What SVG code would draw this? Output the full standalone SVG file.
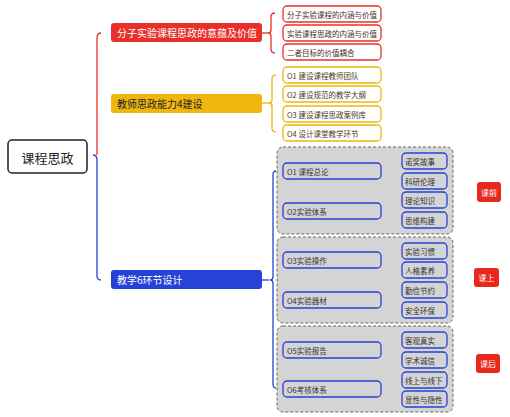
<svg xmlns="http://www.w3.org/2000/svg" width="510" height="417" viewBox="0 0 510 417">
<style>
text{font-family:"Noto Sans CJK SC","Noto Sans",sans-serif;dominant-baseline:central}
.main{font-size:10px}
.sub{font-size:7.5px}
.red{fill:none;stroke:#E8302A;stroke-width:1.3}
.yel{fill:none;stroke:#EFB60E;stroke-width:1.3}
.blu{fill:none;stroke:#2742D6;stroke-width:1.3}
.rc{fill:#fff;stroke:#E8302A;stroke-width:1.3}
.yc{fill:#fff;stroke:#EFB60E;stroke-width:1.3}
.bc{fill:#D4D4D4;stroke:#2742D6;stroke-width:1.3}
.grp{fill:#D4D4D4;stroke:#666;stroke-width:1;stroke-dasharray:3 2}
.tag{fill:#E8281C}
.tagt{font-size:8px;fill:#fff}
</style>
<rect width="510" height="417" fill="#fff"/>
<g id="connectors">
<path class="red" d="M97 155 L97 38 Q97 33 101 33"/>
<path class="blu" d="M93 155 Q97 155 97 160 L97 276 Q97 280 101 280"/>
<path class="red" d="M262 33 L268 33"/>
<path class="red" d="M275 13 Q271 13 271 17 L271 30 Q271 33 268 33 Q271 33 271 36 L271 49 Q271 53 275 53"/>
<path class="yel" d="M262 103 L269 103"/>
<path class="yel" d="M276 75 Q272 75 272 79 L272 100 Q272 103 269 103 Q272 103 272 106 L272 128 Q272 132 276 132"/>
<path class="blu" d="M262 280 L269 280"/>
<path class="blu" d="M276 171 Q273 171 273 175 L273 277 Q273 280 270 280 Q273 280 273 283 L273 384 Q273 388 276 388"/>
<path class="blu" d="M393 160 Q390 160 390 163 L390 168 Q390 171 387 171 Q390 171 390 174 L390 179 Q390 182 393 182"/>
<path class="blu" d="M393 200 Q390 200 390 203 L390 208 Q390 211 387 211 Q390 211 390 214 L390 219 Q390 222 393 222"/>
<path class="blu" d="M393 249 Q390 249 390 252 L390 257 Q390 260 387 260 Q390 260 390 263 L390 268 Q390 271 393 271"/>
<path class="blu" d="M393 289 Q390 289 390 292 L390 297 Q390 300 387 300 Q390 300 390 303 L390 308 Q390 311 393 311"/>
<path class="blu" d="M393 339 Q390 339 390 342 L390 347 Q390 350 387 350 Q390 350 390 353 L390 358 Q390 361 393 361"/>
<path class="blu" d="M393 378 Q390 378 390 381 L390 386 Q390 389 387 389 Q390 389 390 392 L390 397 Q390 400 393 400"/>
</g>
<g id="root"><rect x="8" y="140" width="79" height="33" rx="4" fill="#fff" stroke="#222" stroke-width="1.5"/><text x="47.5" y="157" text-anchor="middle" font-size="13" fill="#222">课程思政</text></g>
<g id="n1"><rect x="111" y="23" width="151" height="19" rx="3" fill="#E8302A"/><text class="main" x="117" y="32.5" fill="#fff">分子实验课程思政的意蕴及价值</text></g>
<g id="n2"><rect x="111" y="94" width="151" height="19" rx="3" fill="#EFB60E"/><text class="main" x="117" y="103.5" fill="#222">教师思政能力4建设</text></g>
<g id="n3"><rect x="111" y="270" width="151" height="19" rx="3" fill="#2742D6"/><text class="main" x="117" y="279.5" fill="#fff">教学6环节设计</text></g>
<g id="n1a"><rect class="rc" x="283" y="6" width="98" height="16" rx="4"/><text class="sub" x="287" y="14" fill="#4a2a2a">分子实验课程的内涵与价值</text></g>
<g id="n1b"><rect class="rc" x="283" y="25" width="98" height="16" rx="4"/><text class="sub" x="287" y="33" fill="#4a2a2a">实验课程思政的内涵与价值</text></g>
<g id="n1c"><rect class="rc" x="283" y="44" width="98" height="16" rx="4"/><text class="sub" x="287" y="52" fill="#4a2a2a">二者目标的价值耦合</text></g>
<g id="n2a"><rect class="yc" x="283" y="67" width="98" height="16" rx="4"/><text class="sub" x="287" y="75" fill="#4a3a1a">O1 建设课程教师团队</text></g>
<g id="n2b"><rect class="yc" x="283" y="86" width="98" height="16" rx="4"/><text class="sub" x="287" y="94" fill="#4a3a1a">O2 建设规范的教学大纲</text></g>
<g id="n2c"><rect class="yc" x="283" y="106" width="98" height="16" rx="4"/><text class="sub" x="287" y="114" fill="#4a3a1a">O3 建设课程思政案例库</text></g>
<g id="n2d"><rect class="yc" x="283" y="125" width="98" height="16" rx="4"/><text class="sub" x="287" y="133" fill="#4a3a1a">O4 设计课堂教学环节</text></g>
<g id="g1"><rect class="grp" x="277" y="147" width="176" height="87" rx="6"/></g>
<g id="g2"><rect class="grp" x="277" y="237" width="176" height="86" rx="6"/></g>
<g id="g3"><rect class="grp" x="277" y="326" width="176" height="86" rx="6"/></g>
<g id="o1"><rect class="bc" x="283" y="163" width="98" height="16" rx="4"/><text class="sub" x="287" y="171" fill="#333">O1 课程总论</text></g>
<g id="o2"><rect class="bc" x="283" y="203" width="98" height="16" rx="4"/><text class="sub" x="287" y="211" fill="#333">O2实验体系</text></g>
<g id="o3"><rect class="bc" x="283" y="252" width="98" height="16" rx="4"/><text class="sub" x="287" y="260" fill="#333">O3实验操作</text></g>
<g id="o4"><rect class="bc" x="283" y="292" width="98" height="16" rx="4"/><text class="sub" x="287" y="300" fill="#333">O4实验器材</text></g>
<g id="o5"><rect class="bc" x="283" y="342" width="98" height="16" rx="4"/><text class="sub" x="287" y="350" fill="#333">O5实验报告</text></g>
<g id="o6"><rect class="bc" x="283" y="381" width="98" height="16" rx="4"/><text class="sub" x="287" y="389" fill="#333">O6考核体系</text></g>
<g id="c1"><rect class="bc" x="402" y="153" width="45" height="16" rx="4"/><text class="sub" x="405" y="161" fill="#333">诺奖故事</text></g>
<g id="c2"><rect class="bc" x="402" y="173" width="45" height="16" rx="4"/><text class="sub" x="405" y="181" fill="#333">科研伦理</text></g>
<g id="c3"><rect class="bc" x="402" y="192" width="45" height="16" rx="4"/><text class="sub" x="405" y="200" fill="#333">理论知识</text></g>
<g id="c4"><rect class="bc" x="402" y="212" width="45" height="16" rx="4"/><text class="sub" x="405" y="220" fill="#333">思维构建</text></g>
<g id="c5"><rect class="bc" x="402" y="243" width="45" height="16" rx="4"/><text class="sub" x="405" y="251" fill="#333">实验习惯</text></g>
<g id="c6"><rect class="bc" x="402" y="262" width="45" height="16" rx="4"/><text class="sub" x="405" y="270" fill="#333">人格素养</text></g>
<g id="c7"><rect class="bc" x="402" y="282" width="45" height="16" rx="4"/><text class="sub" x="405" y="290" fill="#333">勤俭节约</text></g>
<g id="c8"><rect class="bc" x="402" y="302" width="45" height="16" rx="4"/><text class="sub" x="405" y="310" fill="#333">安全环保</text></g>
<g id="c9"><rect class="bc" x="402" y="332" width="45" height="16" rx="4"/><text class="sub" x="405" y="340" fill="#333">客观真实</text></g>
<g id="c10"><rect class="bc" x="402" y="352" width="45" height="16" rx="4"/><text class="sub" x="405" y="360" fill="#333">学术诚信</text></g>
<g id="c11"><rect class="bc" x="402" y="372" width="45" height="16" rx="4"/><text class="sub" x="405" y="380" fill="#333">线上与线下</text></g>
<g id="c12"><rect class="bc" x="402" y="391" width="45" height="16" rx="4"/><text class="sub" x="405" y="399" fill="#333">显性与隐性</text></g>
<g id="t1"><rect class="tag" x="477" y="182" width="24" height="20" rx="3"/><text class="tagt" x="489" y="192" text-anchor="middle">课前</text></g>
<g id="t2"><rect class="tag" x="474" y="268" width="25" height="19" rx="3"/><text class="tagt" x="486.5" y="277.5" text-anchor="middle">课上</text></g>
<g id="t3"><rect class="tag" x="476" y="354" width="24" height="19" rx="3"/><text class="tagt" x="488" y="363.5" text-anchor="middle">课后</text></g>
</svg>
